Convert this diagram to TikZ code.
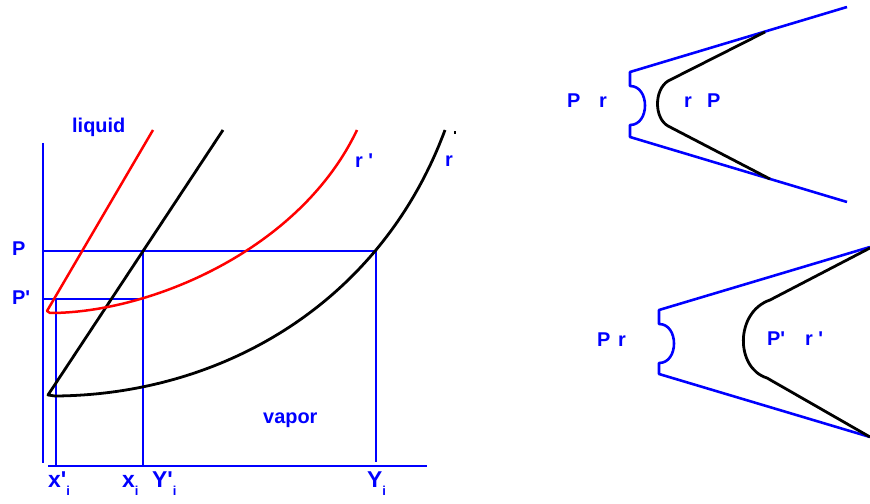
\documentclass[tikz,border=0pt]{standalone}
\usepackage{fontspec}
\setmainfont{Liberation Sans}[Ligatures=TeXOff]
\usetikzlibrary{positioning,calc}
\definecolor{phBlue}{HTML}{0000FF}
\definecolor{phRed} {HTML}{FF0000}
\newcommand\subi[1]{\raisebox{-0.38em}{\fontsize{13}{13}\selectfont #1}}

\begin{document}
\begin{tikzpicture}[x=1bp,y=-1bp,line join=round,
          lab/.style={text=phBlue,font=\fontsize{20}{22}\selectfont\bfseries,inner sep=0,anchor=base west},
          xlab/.style={lab,font=\fontsize{23}{25}\selectfont\bfseries},
          ax/.style={phBlue,line width=3pt},
          gl/.style={phBlue,line width=1.2pt},
          wall/.style={phBlue,line width=2.6pt},
          cv/.style={black,line width=2.8pt},
          rcv/.style={phRed,line width=2.5pt}]
        \useasboundingbox (0,0) rectangle (870,504);
        % phase diagram
        \coordinate (o) at (43,466);
        \coordinate (tl) at (48,395);
        \coordinate (rl) at (47,311);
        \draw[ax] (43,143) -- (43,463);
        \draw[ax] (48,466) -- (427,466);
        \draw[gl] (43,251) -- (376,251) -- (376,462);
        \draw[gl] (43,299) -- (143,299);
        \draw[gl] (56,299) -- (56,466);
        \draw[gl] (143,251) -- (143,466);

        \draw[cv] (223,130) -- (tl) -- (55,396)
          .. controls (220,395) and (380,305) .. (445,130);
        \draw[rcv] (153,130) -- (rl) -- (50,313)
          .. controls (150,313) and (300,250) .. (357,130);
        \fill (454,131) rectangle (456,134);

        \node[lab] (liq) at (72,133) {liquid};
        \node[lab] (vap) at (263,423) {vapor};
        \node[lab] (rp) at (355,168) {r '};
        \node[lab] (r) at (445,167) {r};
        \node[lab] (p) at (12,256) {P};
        \node[lab] (pp) at (12,305) {P'};
        \node[xlab] (xpi) at (48,487) {x'\subi{i}};
        \node[xlab] (xi) at (122,487) {x\subi{i}};
        \node[xlab] (ypi) at (152,487) {Y'\subi{i}};
        \node[xlab] (yi) at (367,487) {Y\subi{i}};

        % flat interface
        \draw[wall] (847,7) -- (630,72) -- (630,86)
          .. controls (650,86) and (650,125) .. (630,125) -- (630,137) -- (847,202);
        \draw[cv] (765,32) -- (668,81)
          .. controls (654,90) and (654,118) .. (668,126) -- (770,179);
        \node[lab] (p1) at (567,108) {P};
        \node[lab] (r1) at (599,108) {r};
        \node[lab] (r2) at (684,108) {r};
        \node[lab] (p2) at (707,108) {P};

        % curved interface
        \draw[wall] (870,247) -- (659,310) -- (659,324)
          .. controls (679,324) and (679,363) .. (659,363) -- (659,374) -- (870,437);
        \draw[cv] (870,248) -- (770,300)
          .. controls (735,312) and (735,368) .. (767,378) -- (870,437);
        \node[lab] (p3) at (597,347) {P};
        \node[lab] (r3) at (618,347) {r};
        \node[lab] (p4) at (767,346) {P'};
        \node[lab] (r4) at (805,346) {r '};
      \end{tikzpicture}
\end{document}
